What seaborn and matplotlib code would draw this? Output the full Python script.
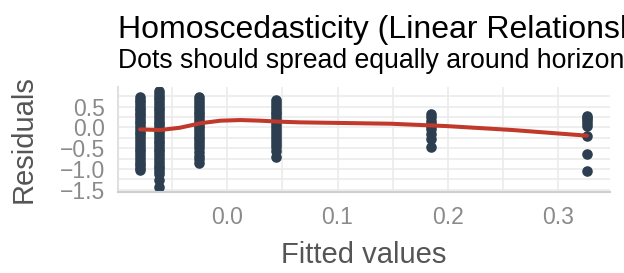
import pandas as pd
import matplotlib.pyplot as plt
import seaborn as sns

# fitted values (one column of residuals per distinct fitted value)
fitted_levels = [-0.079, -0.062, -0.026, 0.044, 0.185, 0.326]
res_col1 = [0.73, 0.66, 0.60, 0.53, 0.47, 0.41, 0.35, 0.29, 0.22, 0.16, 0.10, 0.03, -0.04, -0.11,
            -0.16, -0.24, -0.31, -0.37, -0.45, -0.52, -0.58, -0.64, -0.71, -0.78, -0.85, -0.91, -0.97, -1.03]
res_col2 = [0.87, 0.80, 0.74, 0.67, 0.61, 0.54, 0.47, 0.41, 0.34, 0.28, 0.21, 0.14, 0.08, 0.01, -0.06,
            -0.12, -0.19, -0.25, -0.32, -0.38, -0.45, -0.52, -0.58, -0.65, -0.72, -0.78, -0.85, -0.92,
            -0.98, -1.05, -1.13, -1.27, -1.44]
res_col3 = [0.72, 0.65, 0.58, 0.52, 0.45, 0.38, 0.31, 0.25, 0.18, 0.11, 0.04, -0.02, -0.09, -0.16, -0.23,
            -0.29, -0.36, -0.43, -0.50, -0.60, -0.68, -0.77, -0.85]
res_col4 = [0.66, 0.59, 0.52, 0.45, 0.38, 0.31, 0.24, 0.17, 0.10, 0.03, -0.04, -0.11, -0.18, -0.25, -0.32,
            -0.40, -0.48, -0.57, -0.71]
res_col5 = [0.33, 0.24, 0.16, 0.08, 0.04, -0.05, -0.16, -0.28, -0.48]
res_col6 = [0.28, 0.22, 0.18, 0.10, 0.04, -0.20, -0.64, -1.04]

# loess smoother
smooth_x = [-0.079, -0.061, -0.043, -0.024, -0.006, 0.012, 0.030, 0.048, 0.066, 0.148, 0.199, 0.259, 0.326]
smooth_y = [-0.05, -0.065, -0.01, 0.10, 0.16, 0.175, 0.16, 0.135, 0.12, 0.087, 0.03, -0.065, -0.20]

title = "Homoscedasticity (Linear Relationship)"
subtitle = "Dots should spread equally around horizontal line"

cols = [res_col1, res_col2, res_col3, res_col4, res_col5, res_col6]
points = pd.DataFrame({
    'fitted': [f for f, c in zip(fitted_levels, cols) for _ in c],
    'resid': [r for c in cols for r in c],
})
smooth = pd.DataFrame({'fitted': smooth_x, 'resid': smooth_y})

sns.set_style('white')
plt.rcParams['font.family'] = ['Liberation Sans', 'DejaVu Sans']

fig = plt.figure(figsize=(6.24, 2.73), dpi=100)
ax = fig.add_axes([118 / 624, 1 - 192 / 273, (610 - 118) / 624, (192 - 87) / 273])

grid_col = '#ebebeb'
for v in [-1.5, -1.25, -1.0, -0.75, -0.5, -0.25, 0.0, 0.25, 0.5, 0.75]:
    ax.axhline(v, color=grid_col, lw=1.2, zorder=0)
for v in [-0.05, 0.0, 0.05, 0.1, 0.15, 0.2, 0.25, 0.3]:
    ax.axvline(v, color=grid_col, lw=1.2, zorder=0)

sns.scatterplot(data=points, x='fitted', y='resid', ax=ax, color='#2c3e50',
                s=58, linewidth=0, zorder=2)
sns.lineplot(data=smooth, x='fitted', y='resid', ax=ax, color='#c0392b', lw=2.9, zorder=3)

ax.set_xlim(-0.099, 0.347)
ax.set_ylim(-1.555, 0.97)
ax.set_xticks([0.0, 0.1, 0.2, 0.3])
ax.set_xticklabels(['0.0', '0.1', '0.2', '0.3'])
ax.set_yticks([-1.5, -1.0, -0.5, 0.0, 0.5])
ax.set_yticklabels(['\u22121.5', '\u22121.0', '\u22120.5', '0.0', '0.5'])
ax.tick_params(length=0, labelsize=16.5, labelcolor='#8a8a8a')
ax.tick_params(axis='x', pad=10)
ax.tick_params(axis='y', pad=9.5)

for side in ['top', 'right']:
    ax.spines[side].set_visible(False)
ax.spines['left'].set_color('#e0e0e0')
ax.spines['left'].set_linewidth(1.5)
ax.spines['bottom'].set_color('#cfcfcf')
ax.spines['bottom'].set_linewidth(1.5)

ax.set_xlabel('Fitted values', fontsize=21, color='#555555', labelpad=9)
ax.set_ylabel('Residuals', fontsize=21, color='#555555', labelpad=16)

fig.text(118 / 624, 1 - 38 / 273, title, fontsize=23, color='black', va='baseline', ha='left')
fig.text(118 / 624, 1 - 68 / 273, subtitle, fontsize=19.2, color='black', va='baseline', ha='left')

fig.savefig('out.png', dpi=100)
